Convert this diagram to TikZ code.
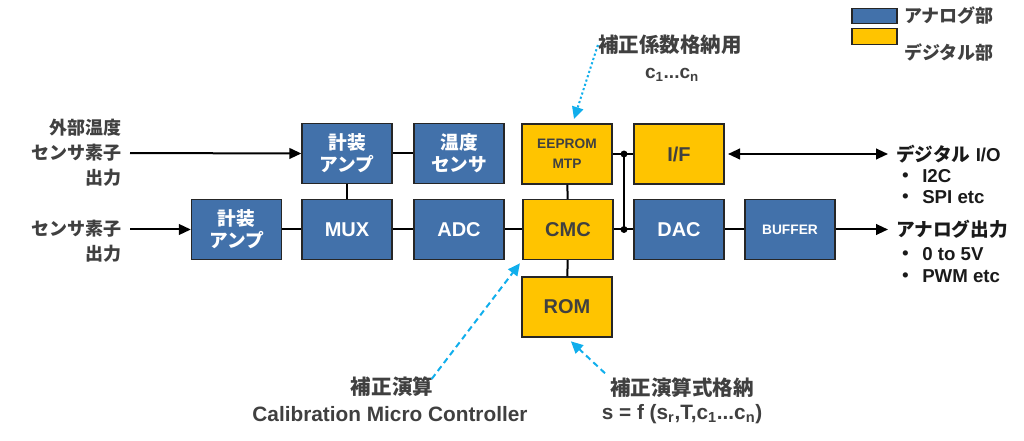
\documentclass[tikz,border=0pt]{standalone}
\usepackage{fontspec}
\setmainfont{Liberation Sans}
\newfontfamily\jpfont{Noto Sans CJK JP}
\usetikzlibrary{arrows.meta,positioning}
\definecolor{anablue}{RGB}{66,113,170}
\definecolor{digyellow}{RGB}{255,196,0}
\definecolor{edgegray}{RGB}{38,38,38}
\definecolor{txtgray}{RGB}{64,64,64}
\definecolor{txtdark}{RGB}{26,26,26}
\definecolor{noteblue}{RGB}{16,174,236}
\newcommand{\jp}[1]{{\jpfont #1}}
\newcommand{\itemdot}{\jp{・}\hspace{5.5pt}}
\tikzset{
  blk/.style={draw=edgegray, line width=1pt, minimum width=67.5pt, minimum height=45pt,
    inner sep=0pt, align=center, font=\bfseries\fontsize{15}{18}\selectfont},
  ablk/.style={blk, fill=anablue, text=white},
  dblk/.style={blk, fill=digyellow, text=txtgray},
  jpb/.style={font=\bfseries\fontsize{14}{16.5}\selectfont\jpfont},
  smallb/.style={font=\bfseries\fontsize{10.3}{15}\selectfont},
  wire/.style={line width=1.5pt},
  sig/.style={line width=1.5pt, -{Triangle[length=9pt,width=8pt]}},
  note/.style={draw=noteblue, line width=1.5pt, -{Triangle[length=9pt,width=8.5pt]}},
  lbl/.style={inner sep=0pt, text=txtgray, align=right,
    font=\bfseries\fontsize{13.5}{18.75}\selectfont\jpfont},
  outlbl/.style={inner sep=0pt, text=txtdark, align=left,
    font=\bfseries\fontsize{14}{16}\selectfont},
  notelbl/.style={inner sep=0pt, text=txtgray, font=\bfseries\fontsize{15.4}{18}\selectfont\jpfont},
  notesub/.style={inner sep=0pt, text=txtgray, font=\bfseries\fontsize{15.6}{18}\selectfont},
  legbox/.style={draw=edgegray, line width=1pt, minimum width=33.75pt, minimum height=11.6pt, inner sep=0pt},
  legtxt/.style={inner sep=0pt, anchor=west, text=txtgray, font=\bfseries\fontsize{13.5}{16}\selectfont\jpfont}
}
\begin{document}
\begin{tikzpicture}[x=0.75pt,y=-0.75pt]
  \useasboundingbox (0,0) rectangle (1024,441);
  % blocks
  \node[ablk,jpb] (ampA) at (347,153.5) {計装\\アンプ};
  \node[ablk,jpb] (tsens) at (459,153.5) {温度\\センサ};
  \node[ablk,jpb] (ampB) at (236.5,229.5) {計装\\アンプ};
  \node[ablk] (mux) at (347,229.5) {MUX};
  \node[ablk] (adc) at (459,229.5) {ADC};
  \node[dblk,smallb] (eeprom) at (567,154) {EEPROM\\MTP};
  \node[dblk] (iface) at (679,154) {I/F};
  \node[dblk] (cmc) at (568,229.5) {CMC};
  \node[ablk] (dac) at (679,229.5) {DAC};
  \node[ablk,smallb] (buffer) at (790,229.5) {BUFFER};
  \node[dblk] (rom) at (567,307) {ROM};
  % junctions
  \coordinate (j1) at (624,154);
  \coordinate (j2) at (624,229.5);
  % labels
  \node[lbl, anchor=east] (extLbl) at (122,153) {外部温度\\センサ素子\\出力};
  \node[lbl, anchor=east] (senLbl) at (122,241.5) {センサ素子\\出力};
  \coordinate (senIn) at (130,229.5);
  \node[outlbl, anchor=west] (dio) at (896,154) {\jp{デジタル} I/O};
  \node[outlbl, below right=4.5pt and 0pt of dio.south west] (dioList) {\itemdot I2C\\\itemdot SPI etc};
  \node[outlbl, anchor=west] (aout) at (896,229.5) {\jp{アナログ出力}};
  \node[outlbl, below right=6.5pt and 0pt of aout.south west] (aoutList) {\itemdot 0 to 5V\\\itemdot PWM etc};
  \node[notelbl] (coefLbl) at (670,45) {補正係数格納用};
  \node[notesub, font=\bfseries\fontsize{14.3}{16}\selectfont] (coefSub) at (672,75) {c\textsubscript{1}...c\textsubscript{n}};
  \coordinate (coefTip) at (574,119);
  \node[notelbl] (cmcLbl) at (392,387) {補正演算};
  \node[notesub] (cmcSub) at (390,414) {Calibration Micro Controller};
  \node[notelbl] (romLbl) at (682,388) {補正演算式格納};
  \node[notesub] (romSub) at (682,414) {s = f (s\textsubscript{r},T,c\textsubscript{1}...c\textsubscript{n})};
  % legend
  \node[legbox, fill=anablue] (legA) at (874.5,16) {};
  \node[legbox, fill=digyellow] (legD) at (874.5,36.5) {};
  \node[legtxt] (legAtxt) at (904,16) {アナログ部};
  \node[legtxt] (legDtxt) at (904,52) {デジタル部};
  % edges
  \draw[wire] (ampA) -- (tsens) (ampA) -- (mux);
  \draw[wire] (ampB) -- (mux) -- (adc) -- (cmc);
  \draw[wire] (eeprom) -- (cmc) -- (rom);
  \draw[wire] (eeprom.east |- j1) -- (iface.west |- j1);
  \draw[wire] (cmc.east |- j2) -- (dac.west |- j2);
  \draw[wire] (j1) -- (j2);
  \fill (j1) circle (2.6pt) (j2) circle (2.6pt);
  \draw[wire] (dac) -- (buffer);
  \draw[sig, shorten <=6pt] (extLbl.east) -- (ampA.west);
  \draw[sig] (senIn) -- (ampB.west);
  \draw[sig, {Triangle[length=9pt,width=8pt]}-{Triangle[length=9pt,width=8pt]}, shorten <=2.5pt, shorten >=6pt] (iface.east) -- (dio.west);
  \draw[sig, shorten >=6pt] (buffer.east) -- (aout.west);
  % notes
  \draw[note, dash pattern=on 1.6pt off 1.8pt] (coefLbl.west) -- (coefTip);
  \draw[note, dash pattern=on 4.5pt off 3pt, shorten <=-2pt, shorten >=3pt] (cmcLbl.north east) -- (cmc.south west);
  \draw[note, dash pattern=on 4.5pt off 3pt, shorten <=5pt, shorten >=4pt] (romLbl.north west) -- (rom.south);
\end{tikzpicture}
\end{document}
